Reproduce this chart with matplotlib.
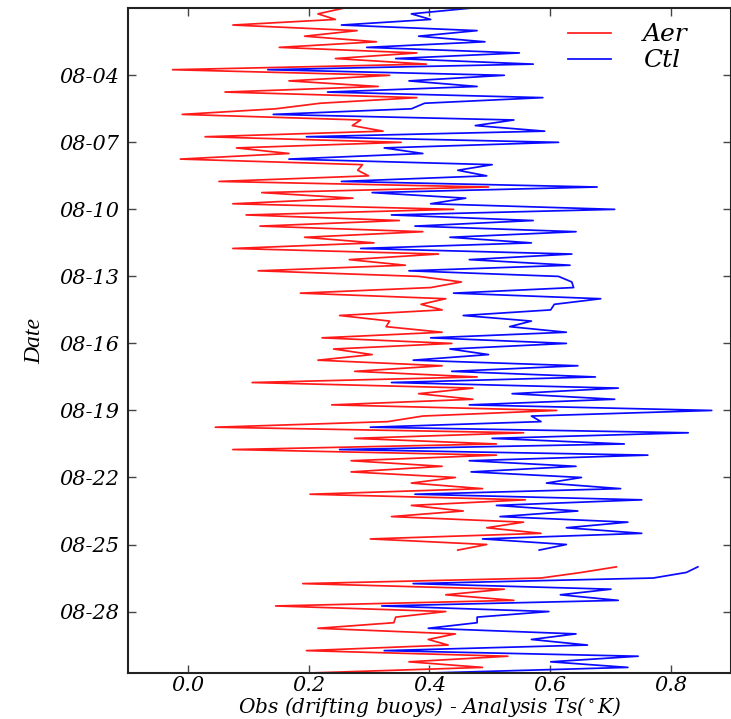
import numpy as np
import pandas as pd
import matplotlib
matplotlib.use("Agg")
import matplotlib.pyplot as plt
import matplotlib.dates as mdates

# 6-hourly analysis times, Aug 1 00Z .. Aug 30 18Z
times = pd.date_range("2013-08-01 00:00", periods=120, freq="6h")

# Obs (drifting buoys) minus analysis Ts, aerosol run (NaN = no data)
aer = [
    0.257, 0.215, 0.244, 0.074, 0.280, 0.193, 0.312, 0.151, 0.379, 0.244,
    0.395, -0.026, 0.334, 0.167, 0.315, 0.061, 0.379, 0.219, 0.145, -0.010,
    0.286, 0.272, 0.323, 0.028, 0.353, 0.080, 0.167, -0.013, 0.289, 0.281,
    0.299, 0.051, 0.498, 0.122, 0.273, 0.074, 0.440, 0.096, 0.350, 0.119,
    0.389, 0.193, 0.308, 0.074, 0.415, 0.267, 0.360, 0.116, 0.382, 0.453,
    0.402, 0.186, 0.427, 0.386, 0.421, 0.251, 0.334, 0.328, 0.421, 0.222,
    0.437, 0.241, 0.305, 0.215, 0.421, 0.276, 0.479, 0.106, 0.472, 0.382,
    0.472, 0.238, 0.611, 0.389, 0.331, 0.045, 0.556, 0.276, 0.511, 0.074,
    0.511, 0.270, 0.421, 0.270, 0.443, 0.370, 0.488, 0.202, 0.559, 0.370,
    0.456, 0.337, 0.556, 0.495, 0.585, 0.302, 0.495, 0.447, np.nan, np.nan,
    0.710, 0.652, 0.585, 0.190, 0.524, 0.427, 0.540, 0.145, 0.427, 0.344,
    0.341, 0.215, 0.443, 0.398, 0.431, 0.196, 0.530, 0.366, 0.488, 0.202,
]

# Same statistic, control run
ctl = [
    0.466, 0.370, 0.402, 0.254, 0.479, 0.382, 0.492, 0.296, 0.549, 0.344,
    0.572, 0.132, 0.524, 0.366, 0.479, 0.231, 0.588, 0.392, 0.370, 0.141,
    0.540, 0.476, 0.591, 0.196, 0.614, 0.325, 0.389, 0.167, 0.504, 0.447,
    0.495, 0.254, 0.678, 0.305, 0.460, 0.402, 0.707, 0.337, 0.572, 0.376,
    0.643, 0.434, 0.569, 0.286, 0.636, 0.466, 0.633, 0.366, 0.614, 0.636,
    0.639, 0.440, 0.684, 0.607, 0.601, 0.456, 0.569, 0.533, 0.627, 0.402,
    0.627, 0.434, 0.498, 0.373, 0.646, 0.437, 0.675, 0.337, 0.713, 0.537,
    0.707, 0.466, 0.868, 0.569, 0.585, 0.302, 0.829, 0.504, 0.723, 0.251,
    0.762, 0.466, 0.643, 0.469, 0.652, 0.594, 0.717, 0.376, 0.752, 0.511,
    0.646, 0.517, 0.729, 0.627, 0.752, 0.488, 0.627, 0.582, np.nan, np.nan,
    0.845, 0.826, 0.771, 0.373, 0.701, 0.617, 0.713, 0.321, 0.598, 0.479,
    0.479, 0.398, 0.643, 0.569, 0.662, 0.325, 0.746, 0.601, 0.729, 0.402,
]

x_ticks = [0.0, 0.2, 0.4, 0.6, 0.8]

plt.rcParams["mathtext.fontset"] = "dejavuserif"

fig = plt.figure(figsize=(7.31, 7.19), dpi=100)
ax = fig.add_axes([0.175, 0.0640, 0.825, 0.9245])

ax.plot(aer, times, color="#ff1a1a", lw=1.25, label="Aer")
ax.plot(ctl, times, color="#0a0aff", lw=1.25, label="Ctl")

ax.set_xlim(-0.1, 0.9)
ax.set_ylim(times[-1], times[0])
ax.set_xticks(x_ticks)

ax.yaxis.set_major_locator(mdates.DayLocator(bymonthday=range(4, 31, 3)))
ax.yaxis.set_major_formatter(mdates.DateFormatter("%m-%d"))

for lab in ax.get_xticklabels() + ax.get_yticklabels():
    lab.set_fontfamily("DejaVu Serif")
    lab.set_fontstyle("italic")
    lab.set_fontsize(15)

ax.tick_params(direction="in", length=6, width=1, color="#444444",
               top=True, right=True)
ax.tick_params(axis="x", pad=2)
ax.tick_params(axis="y", pad=6)
for sp in ax.spines.values():
    sp.set_linewidth(1.5)
    sp.set_color("#222222")

ax.set_xlabel(r"Obs (drifting buoys) - Analysis Ts($^\circ$K)",
              family="DejaVu Serif", style="italic", size=14.5, labelpad=0)
ax.set_ylabel("Date", family="Liberation Serif", style="italic", size=17,
              labelpad=10)

leg = ax.legend(loc="upper left", bbox_to_anchor=(0.705, 1.0), frameon=False,
                prop=dict(family="DejaVu Serif", style="italic", size=18),
                handlelength=1.7, handletextpad=1.3, labelspacing=0.12,
                borderaxespad=0.2)

fig.savefig("out.png", dpi=100)
